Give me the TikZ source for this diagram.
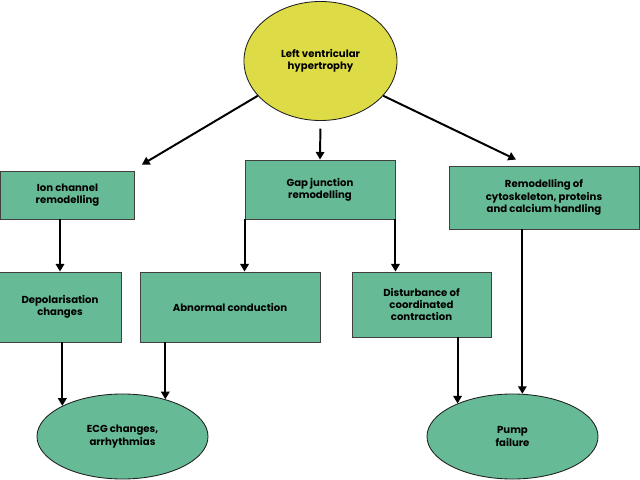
\documentclass[tikz,border=0pt]{standalone}
\usepackage{fontspec}
\setmainfont{Poppins}
\usetikzlibrary{arrows.meta,positioning,shapes.geometric,calc}
\definecolor{BoxGreen}{HTML}{66BA95}
\definecolor{HeartYellow}{HTML}{DEDC46}
\definecolor{Ink}{HTML}{1E1E1E}

\begin{document}
\begin{tikzpicture}[x=0.025cm,y=-0.025cm,
  font=\fontsize{7.2}{8.75}\selectfont\bfseries,
  box/.style={draw=Ink!85,fill=BoxGreen,line width=0.6pt,align=center,
    inner sep=2pt},
  outcome/.style={ellipse,draw=Ink,fill=BoxGreen,line width=0.6pt,
    align=center,minimum width=4.275cm,minimum height=2.125cm,inner sep=0pt},
  flow/.style={-{Triangle[length=1.9mm,width=2.1mm]},draw=black,
    line width=1.4pt}
]
  \useasboundingbox (0,0) rectangle (640,480);

  % cause
  \node[ellipse,draw=Ink,fill=HeartYellow,line width=0.6pt,align=center,
    minimum width=3.825cm,minimum height=2.975cm,inner sep=0pt] (lvh)
    at (320.5,61) {Left ventricular\\hypertrophy};

  % first level
  \node[box,minimum width=3.35cm,minimum height=1.2cm] (ion)
    at (67.5,195) {Ion channel\\remodelling};
  \node[box,minimum width=3.75cm,minimum height=1.475cm] (gap)
    at (320,189.5) {Gap junction\\remodelling};
  \node[box,minimum width=4.75cm,minimum height=1.575cm] (remod)
    at (544,197.5) {Remodelling of\\cytoskeleton, proteins\\and calcium handling};

  % second level
  \node[box,minimum width=3.075cm,minimum height=1.75cm] (depol)
    at (60,307) {Depolarisation\\changes};
  \node[box,minimum width=4.5cm,minimum height=1.75cm] (abnorm)
    at (230,307) {Abnormal conduction};
  \node[box,minimum width=3.475cm,minimum height=1.625cm] (disturb)
    at (421.5,304.5) {Disturbance of\\coordinated\\contraction};

  % outcomes
  \node[outcome] (ecg) at (122.5,436.5) {ECG changes,\\arrhythmias};
  \node[outcome] (pump) at (512.5,436.5) {Pump\\failure};

  \draw[flow] (lvh.209) -- ($(ion.north east)+(7,-6)$);
  \draw[flow,shorten <=5.5pt] (lvh.south) -- (gap.north);
  \draw[flow] (lvh.-29) -- ($(remod.north)+(-28,-6)$);

  \draw[flow] (ion.south -| depol.north) -- (depol.north);
  \draw[flow] (gap.south west) -- (gap.south west |- abnorm.north);
  \draw[flow] (gap.south east) -- (gap.south east |- disturb.north);

  \draw[flow] (depol.south -| ecg.153) -- (ecg.153);
  \draw[flow] (abnorm.south -| ecg.41) -- (ecg.41);
  \draw[flow] (disturb.south -| pump.149) -- (pump.149);
  \draw[flow] (remod.south -| pump.77) -- (pump.77);
\end{tikzpicture}
\end{document}
